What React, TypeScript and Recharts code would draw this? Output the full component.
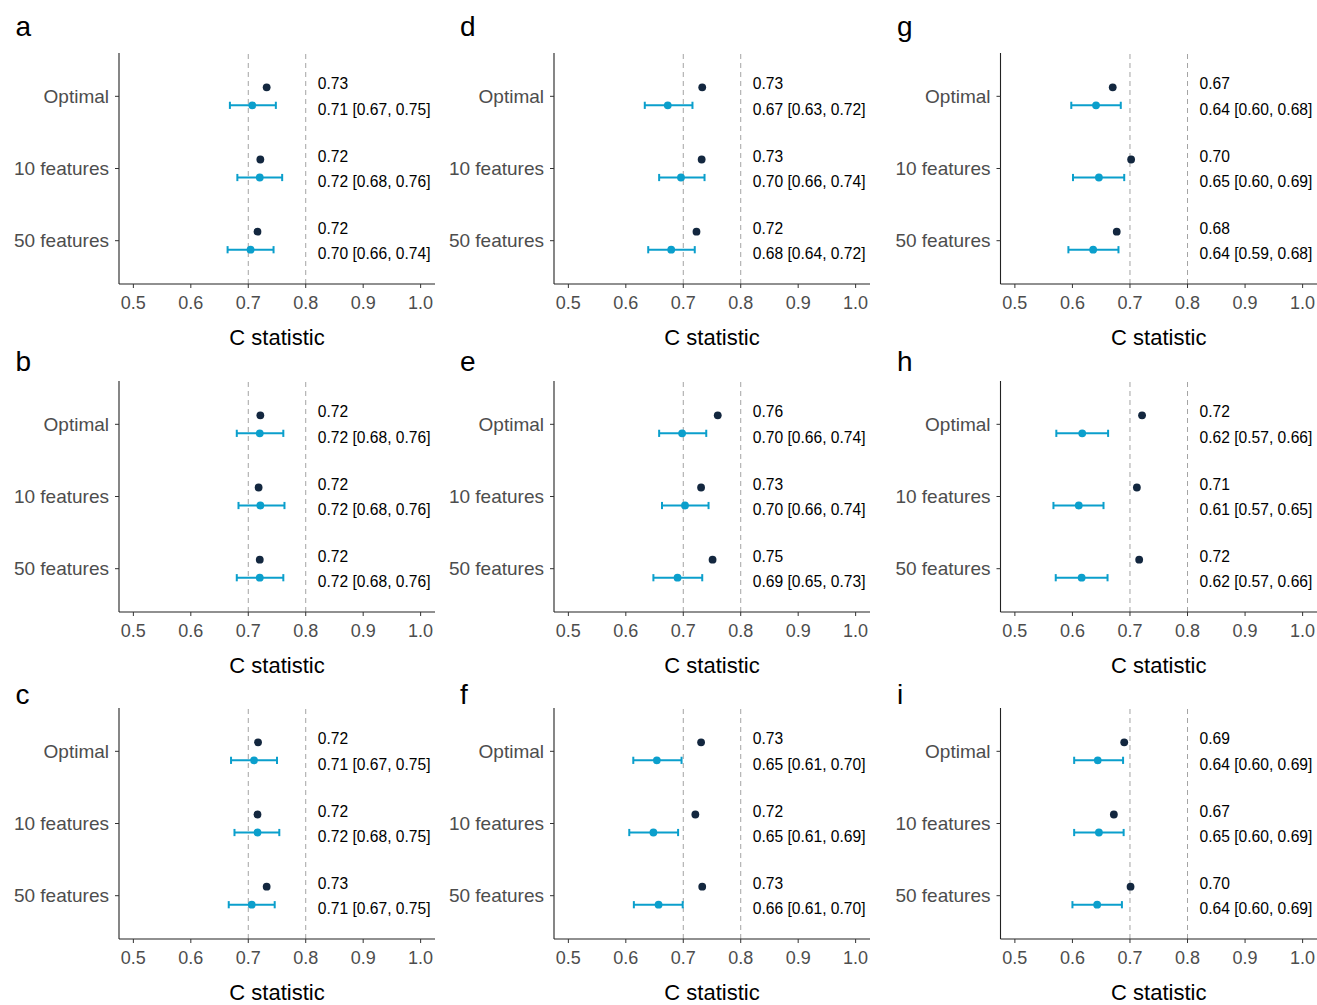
import { ScatterChart, Scatter, XAxis, YAxis, ErrorBar, ReferenceLine } from "recharts"

const categories = ["Optimal", "10 features", "50 features"]
const panelLetters = ["a", "b", "c", "d", "e", "f", "g", "h", "i"]
const xTicks = [0.5, 0.6, 0.7, 0.8, 0.9, 1.0]
const refLines = [0.7, 0.8]

// apparent C statistic (dark dot), one row per panel a..i, categories in order
const apparent = [
  [0.732, 0.721, 0.716],
  [0.721, 0.718, 0.72],
  [0.717, 0.716, 0.732],
  [0.733, 0.732, 0.723],
  [0.76, 0.731, 0.751],
  [0.731, 0.721, 0.733],
  [0.67, 0.702, 0.677],
  [0.721, 0.712, 0.716],
  [0.69, 0.672, 0.701],
]

// validated C statistic (blue dot) and its 95% CI
const validated = [
  [0.707, 0.72, 0.704],
  [0.72, 0.721, 0.72],
  [0.71, 0.716, 0.706],
  [0.673, 0.696, 0.679],
  [0.698, 0.703, 0.69],
  [0.654, 0.648, 0.657],
  [0.641, 0.646, 0.636],
  [0.617, 0.611, 0.616],
  [0.644, 0.646, 0.643],
]

const lower = [
  [0.668, 0.681, 0.664],
  [0.68, 0.683, 0.68],
  [0.67, 0.676, 0.666],
  [0.633, 0.658, 0.639],
  [0.658, 0.663, 0.648],
  [0.613, 0.606, 0.614],
  [0.598, 0.601, 0.593],
  [0.572, 0.567, 0.571],
  [0.603, 0.603, 0.6],
]

const upper = [
  [0.748, 0.759, 0.744],
  [0.761, 0.763, 0.761],
  [0.75, 0.754, 0.746],
  [0.716, 0.737, 0.72],
  [0.74, 0.744, 0.733],
  [0.697, 0.691, 0.699],
  [0.684, 0.69, 0.68],
  [0.662, 0.654, 0.661],
  [0.688, 0.689, 0.686],
]

const DARK = "#13273f"
const BLUE = "#0b9fcc"
const FONT = "Arial, 'Liberation Sans', Helvetica, sans-serif"

// layout of the 3x3 grid
const columns = [
  { left: 0, axisWidth: 119, width: 440, right: 5, letterX: 15.5 },
  { left: 440, axisWidth: 114, width: 435, right: 5, letterX: 460 },
  { left: 880, axisWidth: 120.5, width: 437, right: 0, letterX: 897 },
]
const rows = [
  { plotTop: 53.3, letterY: 36.5 },
  { plotTop: 380.8, letterY: 372 },
  { plotTop: 708.3, letterY: 705 },
]
const PLOT_H = 231
const TOP_PAD = 10
const X_AXIS_H = 75
const DODGE = 0.125
const TEXT_X = 0.821

function textShape(props: any) {
  return (
    <text x={props.cx} y={props.cy} dy="0.355em" fontSize={15.6} fill="#000">
      {props.payload.label}
    </text>
  )
}

function darkDot(props: any) {
  return <circle cx={props.cx} cy={props.cy} r={3.9} fill={DARK} />
}

function blueDot(props: any) {
  return <circle cx={props.cx} cy={props.cy} r={3.9} fill={BLUE} />
}

function ForestPanel({ p }: { p: number }) {
  const col = columns[Math.floor(p / 3)]
  const row = rows[p % 3]

  const darkData = categories.map((_, i) => ({ x: apparent[p][i], y: i + 1 - DODGE }))
  const blueData = categories.map((_, i) => ({
    x: validated[p][i],
    y: i + 1 + DODGE,
    err: [validated[p][i] - lower[p][i], upper[p][i] - validated[p][i]],
  }))
  const darkText = categories.map((_, i) => ({
    x: TEXT_X,
    y: i + 1 - 0.172,
    label: apparent[p][i].toFixed(2),
  }))
  const blueText = categories.map((_, i) => ({
    x: TEXT_X,
    y: i + 1 + 0.178,
    label: `${validated[p][i].toFixed(2)} [${lower[p][i].toFixed(2)}, ${upper[p][i].toFixed(2)}]`,
  }))

  return (
    <>
      <div
        style={{
          position: "absolute",
          left: col.letterX,
          top: row.letterY - 26,
          fontSize: 28,
          lineHeight: "32px",
          height: 32,
          color: "#000",
        }}
      >
        {panelLetters[p]}
      </div>
      <div style={{ position: "absolute", left: col.left, top: row.plotTop - TOP_PAD }}>
        <ScatterChart
          width={col.width}
          height={TOP_PAD + PLOT_H + X_AXIS_H}
          margin={{ top: TOP_PAD, right: col.right, bottom: 0, left: 0 }}
        >
          <XAxis
            type="number"
            dataKey="x"
            domain={[0.475, 1.025]}
            ticks={xTicks}
            allowDataOverflow
            tickFormatter={(v: number) => v.toFixed(1)}
            height={X_AXIS_H}
            tickSize={4}
            tickMargin={8}
            tick={{ fill: "#4d4d4d", fontSize: 18 }}
            tickLine={{ stroke: "#333" }}
            axisLine={{ stroke: "#222", strokeWidth: 1.1 }}
            label={{ value: "C statistic", position: "insideBottom", offset: 14, fontSize: 22, fill: "#000" }}
          />
          <YAxis
            type="number"
            dataKey="y"
            domain={[0.4, 3.6]}
            reversed
            ticks={[1, 2, 3]}
            interval={0}
            allowDataOverflow
            tickFormatter={(v: number) => categories[v - 1]}
            width={col.axisWidth}
            tickSize={4}
            tickMargin={6}
            tick={{ fill: "#4d4d4d", fontSize: 19 }}
            tickLine={{ stroke: "#333" }}
            axisLine={{ stroke: "#222", strokeWidth: 1.1 }}
          />
          {refLines.map((v) => (
            <ReferenceLine key={v} x={v} stroke="#a3a3a3" strokeDasharray="5 4" strokeWidth={1} />
          ))}
          <Scatter data={blueData} shape={blueDot} isAnimationActive={false}>
            <ErrorBar dataKey="err" direction="x" width={3.6} stroke={BLUE} strokeWidth={2} isAnimationActive={false} />
          </Scatter>
          <Scatter data={darkData} shape={darkDot} isAnimationActive={false} />
          <Scatter data={darkText} shape={textShape} isAnimationActive={false} />
          <Scatter data={blueText} shape={textShape} isAnimationActive={false} />
        </ScatterChart>
      </div>
    </>
  )
}

export default function App() {
  return (
    <div
      style={{
        position: "absolute",
        left: 0,
        top: 0,
        width: 1317,
        height: 1005,
        background: "#fff",
        fontFamily: FONT,
        overflow: "hidden",
      }}
    >
      {panelLetters.map((_, p) => (
        <ForestPanel key={p} p={p} />
      ))}
    </div>
  )
}
